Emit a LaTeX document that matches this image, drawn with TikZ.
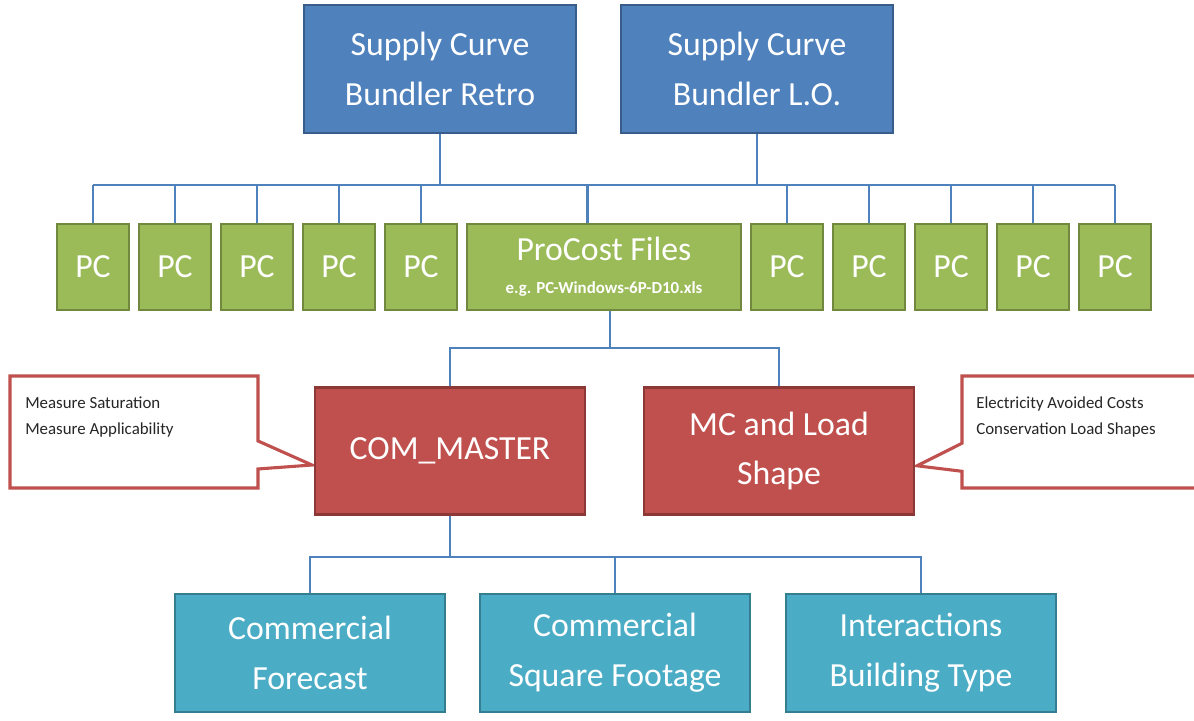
\documentclass[tikz,border=0pt]{standalone}
\usepackage{fontspec}
\setmainfont{Carlito}
\usepackage{tikz}
\usetikzlibrary{shapes.callouts}
\definecolor{bundblue}{HTML}{4F81BD}
\definecolor{bundbluedark}{HTML}{385D8A}
\definecolor{pcgreen}{HTML}{9BBB59}
\definecolor{pcgreendark}{HTML}{71893F}
\definecolor{masterred}{HTML}{C0504D}
\definecolor{masterreddark}{HTML}{8C3836}
\definecolor{inputteal}{HTML}{4BACC6}
\definecolor{inputtealdark}{HTML}{357D91}
\tikzset{
	box/.style={draw, line width=1.8pt, text=white, align=center, inner sep=2pt, font=\fontsize{24}{35.5}\selectfont},
	bundler/.style={box, fill=bundblue, draw=bundbluedark, minimum width=6.8cm, minimum height=3.2cm},
	pcfile/.style={box, fill=pcgreen, draw=pcgreendark, minimum width=1.8cm, minimum height=2.15cm},
	master/.style={box, fill=masterred, draw=masterreddark, minimum width=6.75cm, minimum height=3.175cm},
	input/.style={box, fill=inputteal, draw=inputtealdark, minimum width=6.75cm, minimum height=2.95cm},
	link/.style={draw=bundblue, line width=2pt},
	note/.style={rectangle callout, draw=masterred, line width=2.2pt, fill=white, minimum height=2.8cm, callout pointer width=0.7cm},
	notetext/.style={anchor=north west, align=left, inner sep=0pt, text=black!85, font=\fontsize{12}{18.5}\selectfont}
}

\begin{document}
\begin{tikzpicture}[x=0.025cm, y=-0.025cm]
	\clip (0,0) rectangle (1194,721);
	\fill[white] (0,0) rectangle (1194,721);

	% bundlers
	\node[bundler] (retro) at (440,69) {Supply Curve\\Bundler Retro};
	\node[bundler] (lo) at (757,69) {Supply Curve\\Bundler L.O.};

	% procost files
	\node[pcfile] (pc1) at (93,267) {PC};
	\node[pcfile] (pc2) at (175,267) {PC};
	\node[pcfile] (pc3) at (257,267) {PC};
	\node[pcfile] (pc4) at (339,267) {PC};
	\node[pcfile] (pc5) at (421,267) {PC};
	\node[pcfile, minimum width=6.85cm] (procost) at (604,267) {ProCost Files\\[-12pt]{\fontsize{12}{14}\selectfont\bfseries e.g. PC-Windows-6P-D10.xls}};
	\node[pcfile] (pc6) at (787,267) {PC};
	\node[pcfile] (pc7) at (869,267) {PC};
	\node[pcfile] (pc8) at (951,267) {PC};
	\node[pcfile] (pc9) at (1033,267) {PC};
	\node[pcfile] (pc10) at (1115,267) {PC};

	% callouts
	\node[note, minimum width=6.2cm, callout absolute pointer={([yshift=-0.35cm]312,451)}] (satnote) at (134,432) {};
	\node[note, minimum width=6.7cm, callout absolute pointer={([yshift=-0.37cm]917,451)}] (costnote) at (1096,432) {};
	\node[notetext] (sattext) at (25,397) {Measure Saturation\\Measure Applicability};
	\node[notetext] (costtext) at (976,396) {Electricity Avoided Costs\\Conservation Load Shapes};

	% masters
	\node[master] (com) at (450,451) {COM\_MASTER};
	\node[master] (mc) at (779,451) {MC and Load\\Shape};

	% inputs
	\node[input] (fcst) at (310,653) {Commercial\\Forecast};
	\node[input] (sqft) at (615,653) {Commercial\\Square Footage};
	\node[input] (inter) at (921,653) {Interactions\\Building Type};

	% bus coordinates
	\coordinate (topbus) at (0,185);
	\coordinate (midbus) at (0,348);
	\coordinate (lowbus) at (0,557);

	% links
	\draw[link] (pc1.north |- topbus) -- (pc10.north |- topbus);
	\draw[link] (retro.south) -- (retro.south |- topbus);
	\draw[link] (lo.south) -- (lo.south |- topbus);
	\draw[link] (pc1.north) -- (pc1.north |- topbus);
	\draw[link] (pc2.north) -- (pc2.north |- topbus);
	\draw[link] (pc3.north) -- (pc3.north |- topbus);
	\draw[link] (pc4.north) -- (pc4.north |- topbus);
	\draw[link] (pc5.north) -- (pc5.north |- topbus);
	\draw[link] ([xshift=-0.42cm]procost.north) -- ([xshift=-0.42cm]procost.north |- topbus);
	\draw[link] (pc6.north) -- (pc6.north |- topbus);
	\draw[link] (pc7.north) -- (pc7.north |- topbus);
	\draw[link] (pc8.north) -- (pc8.north |- topbus);
	\draw[link] (pc9.north) -- (pc9.north |- topbus);
	\draw[link] (pc10.north) -- (pc10.north |- topbus);

	\draw[link] ([xshift=0.15cm]procost.south) -- ([xshift=0.15cm]procost.south |- midbus);
	\draw[link] (com.north) -- (com.north |- midbus) -- (mc.north |- midbus) -- (mc.north);

	\draw[link] (com.south) -- (com.south |- lowbus);
	\draw[link] (fcst.north) -- (fcst.north |- lowbus) -- (inter.north |- lowbus) -- (inter.north);
	\draw[link] (sqft.north) -- (sqft.north |- lowbus);
\end{tikzpicture}
\end{document}
